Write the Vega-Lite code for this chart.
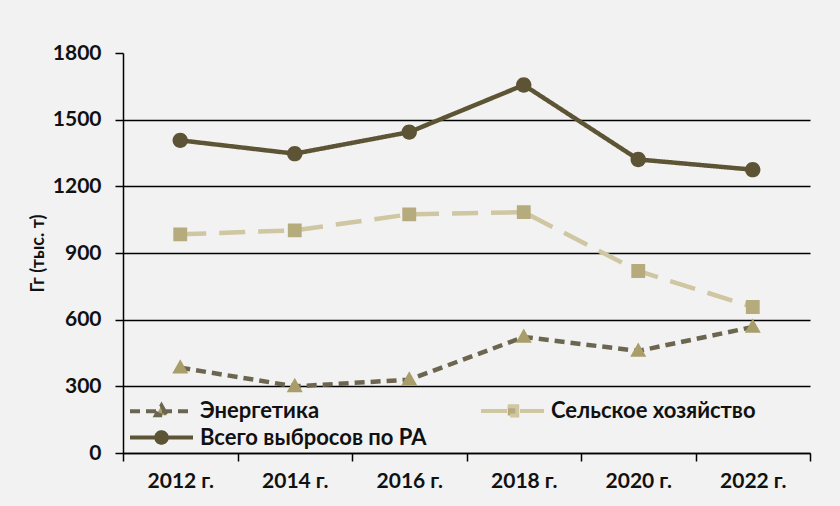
{
  "$schema": "https://vega.github.io/schema/vega-lite/v6.json",
  "width": 687,
  "height": 400,
  "autosize": {"type": "none"},
  "padding": {"left": 123, "top": 53, "right": 30, "bottom": 53},
  "background": "#f2f2f2",
  "config": {"view": {"stroke": null}, "font": "Lato"},
  "data": {
    "values": [
      {"year": "2012 г.", "series": "Энергетика", "value": 384},
      {"year": "2014 г.", "series": "Энергетика", "value": 300},
      {"year": "2016 г.", "series": "Энергетика", "value": 330},
      {"year": "2018 г.", "series": "Энергетика", "value": 522},
      {"year": "2020 г.", "series": "Энергетика", "value": 459},
      {"year": "2022 г.", "series": "Энергетика", "value": 567},
      {"year": "2012 г.", "series": "Сельское хозяйство", "value": 984},
      {"year": "2014 г.", "series": "Сельское хозяйство", "value": 1002},
      {"year": "2016 г.", "series": "Сельское хозяйство", "value": 1074},
      {"year": "2018 г.", "series": "Сельское хозяйство", "value": 1084},
      {"year": "2020 г.", "series": "Сельское хозяйство", "value": 819},
      {"year": "2022 г.", "series": "Сельское хозяйство", "value": 657},
      {"year": "2012 г.", "series": "Всего выбросов по РА", "value": 1407},
      {"year": "2014 г.", "series": "Всего выбросов по РА", "value": 1347},
      {"year": "2016 г.", "series": "Всего выбросов по РА", "value": 1444},
      {"year": "2018 г.", "series": "Всего выбросов по РА", "value": 1656},
      {"year": "2020 г.", "series": "Всего выбросов по РА", "value": 1321},
      {"year": "2022 г.", "series": "Всего выбросов по РА", "value": 1275}
    ]
  },
  "encoding": {
    "x": {
      "field": "year", "type": "nominal", "sort": null, "bandPosition": 0.5,
      "scale": {"type": "band", "paddingInner": 0, "paddingOuter": 0},
      "axis": {
        "title": null, "labelAngle": 0, "grid": false,
        "domainColor": "#000000", "domainWidth": 1.5,
        "tickColor": "#000000", "tickWidth": 1.5, "tickSize": 8, "tickBand": "extent",
        "labelFont": "Lato", "labelFontSize": 21, "labelFontWeight": "bold", "labelColor": "#111111",
        "labelPadding": 9
      }
    },
    "y": {
      "field": "value", "type": "quantitative",
      "scale": {"domain": [0, 1800], "nice": false},
      "axis": {
        "values": [0, 300, 600, 900, 1200, 1500, 1800], "format": "d",
        "title": "Гг (тыс. т)", "titleFont": "Lato", "titleFontSize": 18, "titleFontWeight": "bold", "titleColor": "#111111", "titlePadding": 5,
        "domainColor": "#000000", "domainWidth": 1.5,
        "tickColor": "#000000", "tickWidth": 1.5, "tickSize": 8,
        "grid": true, "gridColor": "#000000", "gridWidth": 1.5,
        "gridOpacity": {"condition": {"test": "datum.value === 1800", "value": 0}, "value": 1},
        "labelFont": "Lato", "labelFontSize": 21, "labelFontWeight": "bold", "labelColor": "#111111",
        "labelPadding": 14
      }
    }
  },
  "layer": [
    {
      "mark": {"type": "line", "strokeWidth": 4.5},
      "encoding": {
        "stroke": {
          "field": "series", "type": "nominal",
          "scale": {"domain": ["Энергетика", "Сельское хозяйство", "Всего выбросов по РА"], "range": ["#6c6650", "#cfc6a2", "#5c5434"]},
          "legend": {
            "title": null, "orient": "none", "legendX": 26, "legendY": 345, "direction": "horizontal", "columns": 2, "columnPadding": 46, "rowPadding": 0,
            "symbolSize": 441, "symbolStrokeWidth": 4, "labelLimit": 400,
            "labelFont": "Lato", "labelFontSize": 22, "labelFontWeight": "bold", "labelColor": "#111111", "labelOffset": 26
          }
        },
        "strokeDash": {
          "field": "series", "type": "nominal",
          "scale": {"domain": ["Энергетика", "Сельское хозяйство", "Всего выбросов по РА"], "range": [[10, 6], [26, 13], [1, 0]]},
          "legend": {
            "title": null, "orient": "none", "legendX": 26, "legendY": 345, "direction": "horizontal", "columns": 2, "columnPadding": 46, "rowPadding": 0,
            "symbolSize": 441, "symbolStrokeWidth": 4, "labelLimit": 400,
            "labelFont": "Lato", "labelFontSize": 22, "labelFontWeight": "bold", "labelColor": "#111111", "labelOffset": 26
          }
        }
      }
    },
    {
      "mark": {"type": "point", "filled": true, "size": 948, "opacity": 1},
      "encoding": {
        "fill": {
          "field": "series", "type": "nominal",
          "scale": {"domain": ["Энергетика", "Сельское хозяйство", "Всего выбросов по РА"], "range": ["#a99e6a", "#b6ab7c", "#5c5434"]},
          "legend": null
        },
        "shape": {
          "field": "series", "type": "nominal",
          "scale": {
            "domain": ["Энергетика", "Сельское хозяйство", "Всего выбросов по РА"],
            "range": [
              "M-3,0H3M0,-0.55L0.52,0.38L-0.52,0.38Z",
              "M-3,0H3M-0.45,-0.45H0.45V0.45H-0.45Z",
              "M-3,0H3M0.5,0A0.5,0.5 0 1,1 -0.5,0A0.5,0.5 0 1,1 0.5,0Z"
            ]
          },
          "legend": null
        }
      }
    }
  ]
}
